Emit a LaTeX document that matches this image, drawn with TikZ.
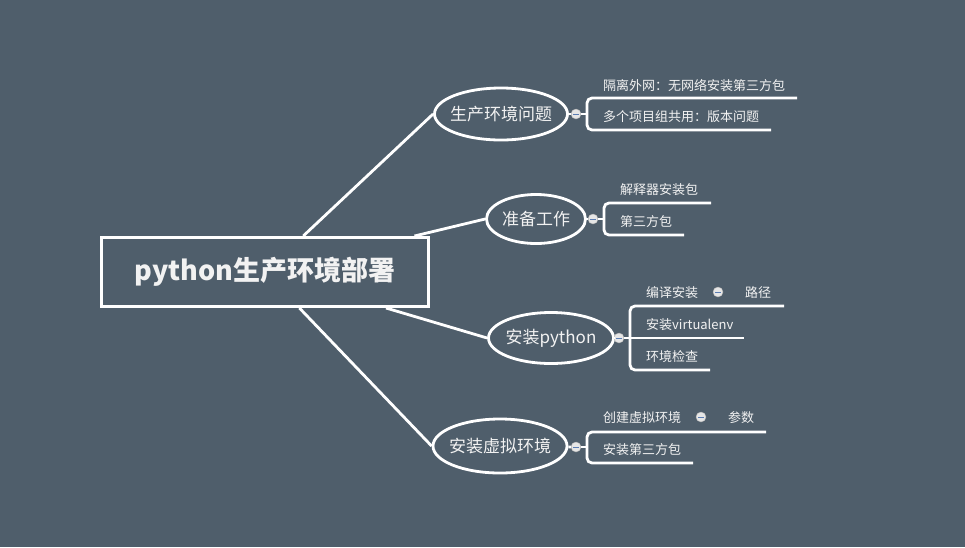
\documentclass[tikz,border=0pt]{standalone}
\usepackage{fontspec}
\setmainfont{Noto Sans CJK SC}
\usetikzlibrary{shapes.geometric}

\definecolor{fondo}{HTML}{4F5E6B}
\definecolor{texto}{HTML}{F2F2F2}
\definecolor{boton-relleno}{HTML}{E6E6E6}
\definecolor{boton-menos}{HTML}{5B7DB3}

\begin{document}
\begin{tikzpicture}[
    x=1pt,
    y=-1pt,
    text=texto,
    font=\fontsize{13}{15}\selectfont,
    raiz/.style={
        draw=white,
        line width=3pt,
        fill=fondo,
        minimum width=327pt,
        minimum height=69pt,
        inner sep=0pt,
        font=\fontsize{27}{30}\selectfont\bfseries
    },
    tema/.style={
        draw=white,
        line width=2.8pt,
        ellipse,
        inner sep=0pt,
        font=\fontsize{17}{20}\selectfont
    },
    hoja/.style={
        anchor=west,
        inner sep=0pt
    },
    boton/.style={
        circle,
        draw=white!70!black,
        line width=0.4pt,
        fill=boton-relleno,
        minimum size=10pt,
        inner sep=0pt,
        path picture={
            \draw[boton-menos,line width=1pt]
                ([xshift=-3pt]path picture bounding box.center) --
                ([xshift=3pt]path picture bounding box.center);
        }
    },
    rama/.style={
        draw=white,
        line width=2.8pt
    }
]
    \fill[fondo] (0,0) rectangle (965,547);
    \useasboundingbox (0,0) rectangle (965,547);

    \node[raiz] (raiz) at (265,272)
        {python生产环境部署};

    \node[tema,minimum width=133pt,minimum height=52pt] (problemas) at (501,114)
        {\makebox[0pt]{生产环境问题}};
    \node[tema,minimum width=99pt,minimum height=49pt] (preparacion) at (536,219)
        {\makebox[0pt]{准备工作}};
    \node[tema,minimum width=125pt,minimum height=51pt] (python) at (551,338)
        {\makebox[0pt]{安装python}};
    \node[tema,minimum width=134pt,minimum height=54pt] (entorno) at (500,446)
        {\makebox[0pt]{安装虚拟环境}};

    \draw[rama] (raiz) -- (problemas.west);
    \draw[rama] (raiz) -- (preparacion.west);
    \draw[rama] (raiz) -- (python.west);
    \draw[rama] (raiz) -- (entorno.west);

    \node[boton] (boton-problemas) at (576,114) {};
    \node[boton] (boton-preparacion) at (593,219) {};
    \node[boton] (boton-python) at (619,338) {};
    \node[boton] (boton-entorno) at (576,447) {};

    \coordinate (rama-problemas) at (587,114);
    \coordinate (fin-aislamiento) at (797,98);
    \coordinate (fin-versiones) at (771,130);

    \coordinate (rama-preparacion) at (604,219);
    \coordinate (fin-interprete) at (711,203);
    \coordinate (fin-terceros) at (684,235);

    \coordinate (rama-python) at (630,338);
    \coordinate (fin-ruta) at (784,306);
    \coordinate (fin-virtualenv) at (744,338);
    \coordinate (fin-chequeo) at (710,370);

    \coordinate (rama-entorno) at (587,447);
    \coordinate (fin-parametros) at (766,432);
    \coordinate (fin-paquetes) at (693,463);

    \draw[rama] (problemas) -- (boton-problemas);
    \draw[rama] (boton-problemas) -- (rama-problemas);
    \draw[rama,rounded corners=5pt]
        (fin-aislamiento) -| (rama-problemas) |- (fin-versiones);

    \draw[rama] (preparacion) -- (boton-preparacion);
    \draw[rama] (boton-preparacion) -- (rama-preparacion);
    \draw[rama,rounded corners=5pt]
        (fin-interprete) -| (rama-preparacion) |- (fin-terceros);

    \draw[rama] (python) -- (boton-python);
    \draw[rama] (boton-python) -- (fin-virtualenv);
    \draw[rama,rounded corners=5pt]
        (fin-ruta) -| (rama-python) |- (fin-chequeo);

    \draw[rama] (entorno) -- (boton-entorno);
    \draw[rama] (boton-entorno) -- (rama-entorno);
    \draw[rama,rounded corners=5pt]
        (fin-parametros) -| (rama-entorno) |- (fin-paquetes);

    \node[hoja] (aislamiento) at (603,86)
        {隔离外网：无网络安装第三方包};
    \node[hoja] (versiones) at (603,117)
        {多个项目组共用：版本问题};

    \node[hoja] (interprete) at (620,190)
        {解释器安装包};
    \node[hoja] (terceros) at (620,222)
        {第三方包};

    \node[hoja] (compilar) at (646,293)
        {编译安装};
    \node[boton] (boton-compilar) at (718,292) {};
    \node[hoja] (ruta) at (745,293)
        {路径};
    \node[hoja] (virtualenv) at (646,325)
        {安装virtualenv};
    \node[hoja] (chequeo) at (646,357)
        {环境检查};

    \node[hoja] (crear) at (603,418)
        {创建虚拟环境};
    \node[boton] (boton-crear) at (701,417) {};
    \node[hoja] (parametros) at (728,418)
        {参数};
    \node[hoja] (paquetes) at (603,450)
        {安装第三方包};
\end{tikzpicture}
\end{document}
